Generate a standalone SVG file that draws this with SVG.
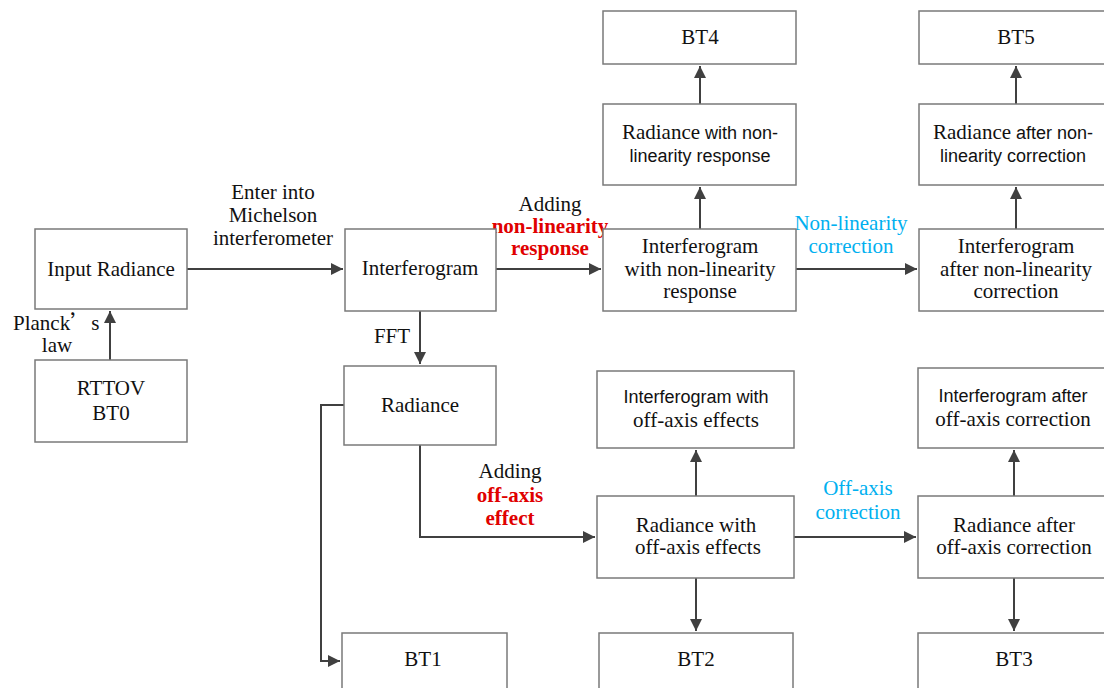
<svg xmlns="http://www.w3.org/2000/svg" width="1104" height="688" viewBox="0 0 1104 688">
<style>
.box{fill:#fff;stroke:#7a7a7a;stroke-width:1.5}
.t{font-family:"Liberation Serif",serif;font-size:21px;fill:#111;text-anchor:middle}
.s{font-family:"Liberation Sans",sans-serif;font-size:18px}
.red{fill:#e00000;font-weight:bold}
.blue{fill:#00b0f0}
.c{fill:none;stroke:#404040;stroke-width:2}
</style>
<defs>
<marker id="a" markerUnits="userSpaceOnUse" markerWidth="13" markerHeight="12" refX="12" refY="6" orient="auto">
<path d="M0,0 L12,6 L0,12 z" fill="#404040"/>
</marker>
</defs>
<rect width="1104" height="688" fill="#fff"/>
<g id="connectors">
<path class="c" d="M187,269 H343" marker-end="url(#a)"/>
<path class="c" d="M110,360 V311" marker-end="url(#a)"/>
<path class="c" d="M420,311 V364" marker-end="url(#a)"/>
<path class="c" d="M496,269 H601" marker-end="url(#a)"/>
<path class="c" d="M700,229 V187" marker-end="url(#a)"/>
<path class="c" d="M700,104 V66" marker-end="url(#a)"/>
<path class="c" d="M796,269 H917" marker-end="url(#a)"/>
<path class="c" d="M1016,229 V187" marker-end="url(#a)"/>
<path class="c" d="M1016,104 V66" marker-end="url(#a)"/>
<path class="c" d="M344,405 H321 V661 H340" marker-end="url(#a)"/>
<path class="c" d="M420,445 V537 H595" marker-end="url(#a)"/>
<path class="c" d="M696,496 V450" marker-end="url(#a)"/>
<path class="c" d="M696,578 V631" marker-end="url(#a)"/>
<path class="c" d="M794,537 H916" marker-end="url(#a)"/>
<path class="c" d="M1014,496 V450" marker-end="url(#a)"/>
<path class="c" d="M1014,578 V631" marker-end="url(#a)"/>
</g>
<g id="labels">
<text class="t" x="273" y="199">Enter into</text>
<text class="t" x="273" y="222">Michelson</text>
<text class="t" x="273" y="245">interferometer</text>
<text class="t" x="550" y="211">Adding</text>
<text class="t red" x="550" y="233">non-linearity</text>
<text class="t red" x="550" y="255">response</text>
<text class="t blue" x="851" y="230">Non-linearity</text>
<text class="t blue" x="851" y="253">correction</text>
<text class="t" x="510" y="478">Adding</text>
<text class="t red" x="510" y="502">off-axis</text>
<text class="t red" x="510" y="525">effect</text>
<text class="t blue" x="858" y="495">Off-axis</text>
<text class="t blue" x="858" y="519">correction</text>
<text class="t" x="13" y="330" style="text-anchor:start">Planck<tspan style="font-family:'Noto Sans CJK SC',sans-serif">’</tspan>s</text>
<text class="t" x="57" y="352">law</text>
<text class="t" x="392" y="343">FFT</text>
</g>
<g id="input-radiance"><rect class="box" x="35" y="229" width="152" height="80"/><text class="t" x="111" y="276">Input Radiance</text></g>
<g id="rttov"><rect class="box" x="35" y="360" width="152" height="82"/><text class="t" x="111" y="395">RTTOV</text><text class="t" x="111" y="420">BT0</text></g>
<g id="interferogram"><rect class="box" x="345" y="229" width="151" height="82"/><text class="t" x="420" y="275">Interferogram</text></g>
<g id="interf-nl"><rect class="box" x="603" y="229" width="193" height="82"/><text class="t" x="700" y="253">Interferogram</text><text class="t" x="700" y="276">with non-linearity</text><text class="t" x="700" y="298">response</text></g>
<g id="rad-nl"><rect class="box" x="603" y="104" width="193" height="81"/><text class="t" x="700" y="139">Radiance<tspan class="s"> with non-</tspan></text><text class="t s" x="700" y="162">linearity response</text></g>
<g id="bt4"><rect class="box" x="603" y="11" width="193" height="53"/><text class="t" x="700" y="44">BT4</text></g>
<g id="interf-nlc"><rect class="box" x="919" y="229" width="193" height="82"/><text class="t" x="1016" y="253">Interferogram</text><text class="t" x="1016" y="276">after non-linearity</text><text class="t" x="1016" y="298">correction</text></g>
<g id="rad-nlc"><rect class="box" x="919" y="104" width="193" height="81"/><text class="t" x="1013" y="139">Radiance<tspan class="s"> after non-</tspan></text><text class="t s" x="1013" y="162">linearity correction</text></g>
<g id="bt5"><rect class="box" x="919" y="11" width="193" height="53"/><text class="t" x="1016" y="44">BT5</text></g>
<g id="radiance"><rect class="box" x="344" y="366" width="152" height="79"/><text class="t" x="420" y="412">Radiance</text></g>
<g id="bt1"><rect class="box" x="342" y="633" width="165" height="70"/><text class="t" x="423" y="666">BT1</text></g>
<g id="interf-oa"><rect class="box" x="597" y="371" width="197" height="77"/><text class="t s" x="696" y="403">Interferogram with</text><text class="t" x="696" y="427">off-axis effects</text></g>
<g id="rad-oa"><rect class="box" x="597" y="496" width="197" height="82"/><text class="t" x="696" y="532">Radiance with</text><text class="t" x="698" y="554">off-axis effects</text></g>
<g id="bt2"><rect class="box" x="599" y="633" width="194" height="70"/><text class="t" x="696" y="666">BT2</text></g>
<g id="interf-oac"><rect class="box" x="918" y="368" width="194" height="80"/><text class="t s" x="1013" y="402">Interferogram after</text><text class="t" x="1013" y="426">off-axis correction</text></g>
<g id="rad-oac"><rect class="box" x="918" y="496" width="194" height="82"/><text class="t" x="1014" y="532">Radiance after</text><text class="t" x="1014" y="554">off-axis correction</text></g>
<g id="bt3"><rect class="box" x="918" y="633" width="194" height="70"/><text class="t" x="1014" y="666">BT3</text></g>
</svg>
